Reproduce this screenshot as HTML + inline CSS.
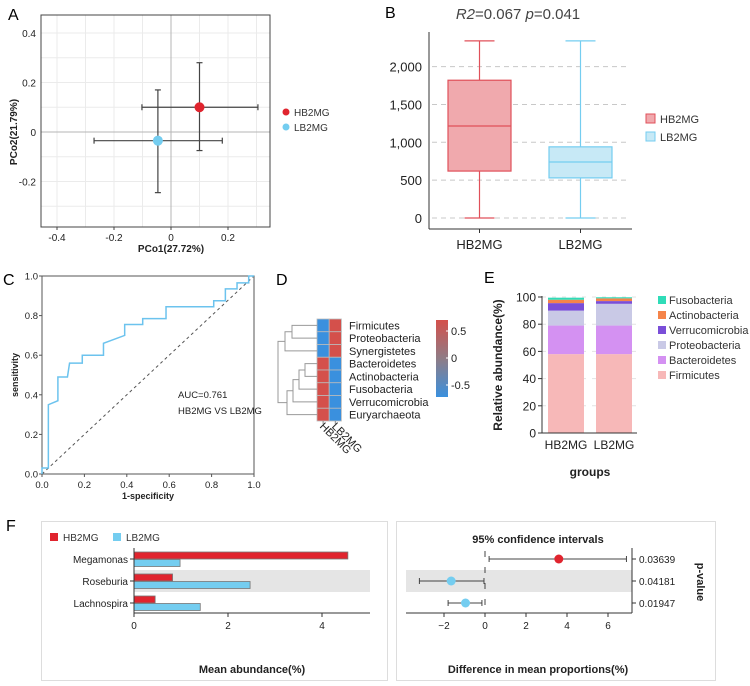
<!DOCTYPE html>
<html><head><meta charset="utf-8">
<style>
html,body{margin:0;padding:0;background:#fff;}
svg{display:block;font-family:"Liberation Sans",Arial,sans-serif;}
</style></head>
<body>
<svg id="fig" width="750" height="686" viewBox="0 0 750 686" xmlns="http://www.w3.org/2000/svg"></svg>
<script>
// ---- Panel A data ----
const pcoaGroups = ["HB2MG", "LB2MG"];
const pcoaX = [0.10, -0.046];
const pcoaY = [0.10, -0.035];
const pcoaXLo = [-0.102, -0.27];
const pcoaXHi = [0.305, 0.18];
const pcoaYLo = [-0.075, -0.245];
const pcoaYHi = [0.28, 0.17];
const pcoaXTicks = [-0.4, -0.2, 0, 0.2];
const pcoaYTicks = [0.4, 0.2, 0, -0.2];
// ---- Panel B data ----
const boxGroups = ["HB2MG", "LB2MG"];
const boxMin = [0, 0];
const boxQ1 = [620, 530];
const boxMed = [1215, 740];
const boxQ3 = [1820, 940];
const boxMax = [2340, 2340];
const boxTicks = [0, 500, 1000, 1500, 2000];
const boxTickLabels = ["0", "500", "1,000", "1,500", "2,000"];
// ---- Panel C data ----
const rocFpr = [0,0,0.03,0.03,0.075,0.075,0.12,0.13,0.19,0.19,0.29,0.29,0.39,0.39,0.475,0.475,0.585,0.585,0.81,0.81,0.865,0.865,0.92,0.92,0.975,0.975,1];
const rocTpr = [0,0.03,0.03,0.35,0.37,0.49,0.49,0.56,0.56,0.6,0.6,0.66,0.7,0.755,0.755,0.785,0.785,0.845,0.845,0.875,0.875,0.935,0.935,0.965,0.965,1,1];
const rocTicks = [0, 0.2, 0.4, 0.6, 0.8, 1.0];
// ---- Panel D data ----
const heatRows = ["Firmicutes","Proteobacteria","Synergistetes","Bacteroidetes","Actinobacteria","Fusobacteria","Verrucomicrobia","Euryarchaeota"];
const heatCols = ["HB2MG","LB2MG"];
const heatHB = [-0.7,-0.7,-0.7,0.7,0.7,0.7,0.7,0.7];
const heatLB = [0.7,0.7,0.7,-0.7,-0.7,-0.7,-0.7,-0.7];
// ---- Panel E data ----
const phyla = ["Firmicutes","Bacteroidetes","Proteobacteria","Verrucomicrobia","Actinobacteria","Fusobacteria"];
const stackGroups = ["HB2MG","LB2MG"];
const stackHB = [58, 21, 11, 5.5, 2.5, 1.5];
const stackLB = [58, 21, 16, 2, 2, 0.8];
const stackTicks = [0, 20, 40, 60, 80, 100];
// ---- Panel F data ----
const genera = ["Megamonas","Roseburia","Lachnospira"];
const meanHB = [4.55, 0.82, 0.45];
const meanLB = [0.98, 2.47, 1.41];
const diffEst = [3.6, -1.65, -0.95];
const diffLo = [0.2, -3.2, -1.8];
const diffHi = [6.9, -0.05, -0.15];
const pValues = ["0.03639","0.04181","0.01947"];
const meanTicks = [0, 2, 4];
const diffTicks = [-2, 0, 2, 4, 6];

const NS = "http://www.w3.org/2000/svg";
const svg = document.getElementById("fig");
function mk(tag, attrs, parent, text) {
  const e = document.createElementNS(NS, tag);
  for (const k in attrs) e.setAttribute(k, attrs[k]);
  if (text !== undefined) e.textContent = text;
  (parent || svg).appendChild(e);
  return e;
}
function grp(name) {
  const g = mk("g", {});
  
  
  return g;
}
const RED = "#e0242e", BLUE = "#74cdf0";

// ===================== Panel A =====================
(function(){
  const g = grp("pcoa-panel");
  const x0 = 41, x1 = 270, y0 = 15, y1 = 227;
  const sx = v => 171 + v * 285;
  const sy = v => 132 - v * 247.5;
  const lab = mk("text", {x: 8, y: 20, "font-size": 16}, g, "A");
  
  
  for (let v = -0.5; v <= 0.45; v += 0.1) {
    const X = sx(v);
    if (X > x0 && X < x1) mk("line", {x1: X, x2: X, y1: y0, y2: y1, stroke: "#ebebeb", "stroke-width": 1}, g);
    const Y = sy(v);
    if (Y > y0 && Y < y1) mk("line", {x1: x0, x2: x1, y1: Y, y2: Y, stroke: "#ebebeb", "stroke-width": 1}, g);
  }
  mk("line", {x1: sx(0), x2: sx(0), y1: y0, y2: y1, stroke: "#b5b5b5", "stroke-width": 1}, g);
  mk("line", {x1: x0, x2: x1, y1: sy(0), y2: sy(0), stroke: "#b5b5b5", "stroke-width": 1}, g);
  const fr = mk("rect", {x: x0, y: y0, width: x1 - x0, height: y1 - y0, fill: "none", stroke: "#444", "stroke-width": 1}, g);
  
  
  pcoaXTicks.forEach(t => {
    mk("line", {x1: sx(t), x2: sx(t), y1: y1, y2: y1 + 3, stroke: "#444"}, g);
    const tx = mk("text", {x: sx(t), y: y1 + 14, "font-size": 10, "text-anchor": "middle", fill: "#222"}, g, t === 0 ? "0" : t.toFixed(1));
    
    
  });
  pcoaYTicks.forEach(t => {
    const ty = mk("text", {x: 36, y: sy(t) + 4, "font-size": 10, "text-anchor": "end", fill: "#222"}, g, t === 0 ? "0" : t.toFixed(1));
    
    
  });
  const xt = mk("text", {x: 171, y: 252, "font-size": 10, "font-weight": "bold", "text-anchor": "middle", fill: "#222"}, g, "PCo1(27.72%)");
  
  
  const yt = mk("text", {x: 0, y: 0, "font-size": 10, "font-weight": "bold", "text-anchor": "middle", fill: "#222", transform: "translate(17,132) rotate(-90)"}, g, "PCo2(21.79%)");
  
  
  const cols = [RED, BLUE];
  pcoaGroups.forEach((name, i) => {
    const cx = sx(pcoaX[i]), cy = sy(pcoaY[i]);
    const eb = mk("g", {stroke: "#444", "stroke-width": 1.2}, g);
    
    
    mk("line", {x1: sx(pcoaXLo[i]), x2: sx(pcoaXHi[i]), y1: cy, y2: cy}, eb);
    mk("line", {x1: sx(pcoaXLo[i]), x2: sx(pcoaXLo[i]), y1: cy - 3, y2: cy + 3}, eb);
    mk("line", {x1: sx(pcoaXHi[i]), x2: sx(pcoaXHi[i]), y1: cy - 3, y2: cy + 3}, eb);
    mk("line", {x1: cx, x2: cx, y1: sy(pcoaYLo[i]), y2: sy(pcoaYHi[i])}, eb);
    mk("line", {x1: cx - 3, x2: cx + 3, y1: sy(pcoaYLo[i]), y2: sy(pcoaYLo[i])}, eb);
    mk("line", {x1: cx - 3, x2: cx + 3, y1: sy(pcoaYHi[i]), y2: sy(pcoaYHi[i])}, eb);
    const pt = mk("circle", {cx: cx, cy: cy, r: 5, fill: cols[i]}, g);
    
    
    const lg = mk("g", {}, g);
    
    
    mk("circle", {cx: 286, cy: 112 + i * 15, r: 3.5, fill: cols[i]}, lg);
    mk("text", {x: 294, y: 116 + i * 15, "font-size": 10, fill: "#333"}, lg, name);
  });
})();

// ===================== Panel B =====================
(function(){
  const g = grp("boxplot-panel");
  const sy = v => 218 - v * 0.0757;
  const lab = mk("text", {x: 385, y: 18, "font-size": 16}, g, "B");
  
  
  const ttl = mk("text", {x: 518, y: 19, "font-size": 15, "text-anchor": "middle", fill: "#444"}, g);
  
  
  mk("tspan", {"font-style": "italic"}, ttl, "R2");
  mk("tspan", {}, ttl, "=0.067  ");
  mk("tspan", {"font-style": "italic"}, ttl, "p");
  mk("tspan", {}, ttl, "=0.041");
  boxTicks.forEach((t, i) => {
    const gl = mk("line", {x1: 432, x2: 628, y1: sy(t), y2: sy(t), stroke: "#c8c8c8", "stroke-dasharray": "5,4"}, g);
    
    
    const tl = mk("text", {x: 422, y: sy(t) + 5, "font-size": 13, "text-anchor": "end", fill: "#222"}, g, boxTickLabels[i]);
    
    
  });
  mk("line", {x1: 429, x2: 429, y1: 32, y2: 229, stroke: "#333"}, g);
  mk("line", {x1: 429, x2: 632, y1: 229, y2: 229, stroke: "#333"}, g);
  const centers = [479.5, 580.5];
  const stroke = ["#e0505a", "#74cdf0"], fill = ["#f0a9ad", "#c7e9f6"];
  boxGroups.forEach((name, i) => {
    const c = centers[i], w = 31.5;
    const bg = mk("g", {stroke: stroke[i], "stroke-width": 1.2}, g);
    
    
    mk("line", {x1: c, x2: c, y1: sy(boxMax[i]), y2: sy(boxQ3[i])}, bg);
    mk("line", {x1: c, x2: c, y1: sy(boxQ1[i]), y2: sy(boxMin[i])}, bg);
    mk("line", {x1: c - 15, x2: c + 15, y1: sy(boxMax[i]), y2: sy(boxMax[i])}, bg);
    mk("line", {x1: c - 15, x2: c + 15, y1: sy(boxMin[i]), y2: sy(boxMin[i])}, bg);
    mk("rect", {x: c - w, y: sy(boxQ3[i]), width: 2 * w, height: sy(boxQ1[i]) - sy(boxQ3[i]), fill: fill[i]}, bg);
    mk("line", {x1: c - w, x2: c + w, y1: sy(boxMed[i]), y2: sy(boxMed[i])}, bg);
    mk("line", {x1: c, x2: c, y1: 229, y2: 233, stroke: "#333"}, g);
    const xl = mk("text", {x: c, y: 249, "font-size": 13, "text-anchor": "middle", fill: "#222"}, g, name);
    
    
    const lg = mk("g", {}, g);
    
    
    mk("rect", {x: 646, y: 114 + i * 18, width: 9, height: 9, fill: fill[i], stroke: stroke[i]}, lg);
    mk("text", {x: 660, y: 123 + i * 18, "font-size": 11, fill: "#333"}, lg, name);
  });
})();

// ===================== Panel C =====================
(function(){
  const g = grp("roc-panel");
  const x0 = 42, x1 = 254, y0 = 276, y1 = 474;
  const sx = v => x0 + v * (x1 - x0);
  const sy = v => y1 - v * (y1 - y0);
  const lab = mk("text", {x: 3, y: 285, "font-size": 16}, g, "C");
  
  
  mk("rect", {x: x0, y: y0, width: x1 - x0, height: y1 - y0, fill: "none", stroke: "#555"}, g);
  rocTicks.forEach(t => {
    mk("line", {x1: sx(t), x2: sx(t), y1: y1, y2: y1 + 3, stroke: "#555"}, g);
    mk("line", {x1: x0 - 3, x2: x0, y1: sy(t), y2: sy(t), stroke: "#555"}, g);
    const tx = mk("text", {x: sx(t), y: y1 + 14, "font-size": 9.5, "text-anchor": "middle", fill: "#222"}, g, t.toFixed(1));
    
    
    const ty = mk("text", {x: x0 - 4, y: sy(t) + 3.5, "font-size": 9.5, "text-anchor": "end", fill: "#222"}, g, t.toFixed(1));
    
    
  });
  const diag = mk("line", {x1: sx(0), y1: sy(0), x2: sx(1), y2: sy(1), stroke: "#555", "stroke-dasharray": "3,3"}, g);
  
  
  const pts = rocFpr.map((f, i) => sx(f) + "," + sy(rocTpr[i])).join(" ");
  const roc = mk("polyline", {points: pts, fill: "none", stroke: "#6cc3ee", "stroke-width": 1.5}, g);
  
  
  const a1 = mk("text", {x: 178, y: 398, "font-size": 9.5, fill: "#222"}, g, "AUC=0.761");
  
  
  const a2 = mk("text", {x: 178, y: 400 + 14, "font-size": 9.5, fill: "#222"}, g, "HB2MG VS LB2MG");
  
  
  const xt = mk("text", {x: 148, y: 499, "font-size": 9, "font-weight": "bold", "text-anchor": "middle", fill: "#222"}, g, "1-specificity");
  
  
  const yt = mk("text", {x: 0, y: 0, "font-size": 9, "font-weight": "bold", "text-anchor": "middle", fill: "#222", transform: "translate(18,375) rotate(-90)"}, g, "sensitivity");
  
  
})();

// ===================== Panel D =====================
(function(){
  const g = grp("heatmap-panel");
  const cx0 = 317, cw = 12.2, ry0 = 319, rh = 12.75;
  const lab = mk("text", {x: 276, y: 285, "font-size": 16}, g, "D");
  
  
  const col = v => v > 0 ? "#d4504b" : "#3a90de";
  const rowY = i => ry0 + rh * (i + 0.5);
  heatRows.forEach((r, i) => {
    [heatHB, heatLB].forEach((arr, j) => {
      const c = mk("rect", {x: cx0 + j * cw, y: ry0 + i * rh, width: cw, height: rh, fill: col(arr[i]), stroke: "#bbb", "stroke-width": 0.8}, g);
      
      
    });
    const t = mk("text", {x: 349, y: rowY(i) + 4, "font-size": 11, fill: "#222"}, g, r);
    
    
  });
  heatCols.forEach((c, j) => {
    const x = cx0 + cw * (j + 0.5);
    mk("line", {x1: x, x2: x, y1: ry0 + 8 * rh, y2: ry0 + 8 * rh + 3, stroke: "#888"}, g);
    const t = mk("text", {x: 0, y: 0, "font-size": 11, fill: "#222", transform: "translate(" + (x - 4) + "," + (ry0 + 8 * rh + 6) + ") rotate(45)"}, g, c);
    
    
  });
  // dendrogram
  const dg = mk("g", {stroke: "#999", fill: "none", "stroke-width": 1}, g);
  
  
  function br(ya, xa, yb, xb, xj) {
    mk("path", {d: "M" + xa + "," + ya + "H" + xj + "V" + yb + "H" + xb}, dg);
    return (ya + yb) / 2;
  }
  const m01 = br(rowY(0), cx0, rowY(1), cx0, 292);
  const mTop = br(m01, 292, rowY(2), cx0, 285);
  const m34 = br(rowY(3), cx0, rowY(4), cx0, 305);
  const m345 = br(m34, 305, rowY(5), cx0, 299);
  const m3456 = br(m345, 299, rowY(6), cx0, 293);
  const mBot = br(m3456, 293, rowY(7), cx0, 287);
  br(mTop, 285, mBot, 287, 278);
  // colorbar
  const defs = mk("defs", {}, g);
  const lgd = mk("linearGradient", {id: "cbar", x1: 0, y1: 0, x2: 0, y2: 1}, defs);
  mk("stop", {offset: "0", "stop-color": "#d4504b"}, lgd);
  mk("stop", {offset: "0.5", "stop-color": "#8f7c86"}, lgd);
  mk("stop", {offset: "1", "stop-color": "#3a90de"}, lgd);
  const cb = mk("rect", {x: 436, y: 320, width: 12, height: 77, fill: "url(#cbar)"}, g);
  
  
  [["0.5", 331], ["0", 358], ["-0.5", 385]].forEach(p => {
    mk("line", {x1: 446, x2: 449, y1: p[1], y2: p[1], stroke: "#fff"}, g);
    const t = mk("text", {x: 451, y: p[1] + 4, "font-size": 11, fill: "#222"}, g, p[0]);
    
    
  });
})();

// ===================== Panel E =====================
(function(){
  const g = grp("stacked-bar-panel");
  const sy = v => 433 - v * 1.36;
  const lab = mk("text", {x: 484, y: 283, "font-size": 16}, g, "E");
  
  
  const colors = ["#f7b8b8", "#d491f2", "#c9c9e6", "#7a4ed8", "#f5844a", "#2fdcb8"];
  stackTicks.forEach(t => {
    mk("line", {x1: 542, x2: 637, y1: sy(t), y2: sy(t), stroke: "#e2e2e2", "stroke-dasharray": "4,6"}, g);
    mk("line", {x1: 538, x2: 542, y1: sy(t), y2: sy(t), stroke: "#333"}, g);
    const tl = mk("text", {x: 536, y: sy(t) + 4.5, "font-size": 12, "text-anchor": "end", fill: "#222"}, g, String(t));
    
    
  });
  const xs = [548, 596];
  [stackHB, stackLB].forEach((arr, gi) => {
    let cum = 0;
    arr.forEach((v, k) => {
      const r = mk("rect", {x: xs[gi], y: sy(cum + v), width: 36, height: sy(cum) - sy(cum + v), fill: colors[k]}, g);
      
      
      cum += v;
    });
    const xl = mk("text", {x: xs[gi] + 18, y: 449, "font-size": 12, "text-anchor": "middle", fill: "#222"}, g, stackGroups[gi]);
    
    
  });
  mk("line", {x1: 542, x2: 542, y1: 296, y2: 433, stroke: "#333"}, g);
  mk("line", {x1: 542, x2: 637, y1: 433, y2: 433, stroke: "#333"}, g);
  const xt = mk("text", {x: 590, y: 476, "font-size": 12, "font-weight": "bold", "text-anchor": "middle", fill: "#222"}, g, "groups");
  
  
  const yt = mk("text", {x: 0, y: 0, "font-size": 12, "font-weight": "bold", "text-anchor": "middle", fill: "#222", transform: "translate(502,365) rotate(-90)"}, g, "Relative abundance(%)");
  
  
  for (let k = phyla.length - 1, row = 0; k >= 0; k--, row++) {
    const lg = mk("g", {}, g);
    
    
    mk("rect", {x: 658, y: 296 + row * 15, width: 8, height: 8, fill: colors[k]}, lg);
    mk("text", {x: 669, y: 304 + row * 15, "font-size": 11, fill: "#333"}, lg, phyla[k]);
  }
})();

// ===================== Panel F =====================
(function(){
  const g = grp("extended-error-bar-panel");
  const lab = mk("text", {x: 6, y: 531, "font-size": 16}, g, "F");
  
  
  const bl = mk("rect", {x: 41.5, y: 521.5, width: 346, height: 159, fill: "none", stroke: "#ddd"}, g);
  
  
  const brr = mk("rect", {x: 396.5, y: 521.5, width: 319, height: 159, fill: "none", stroke: "#ddd"}, g);
  
  
  const rowY = i => 559 + i * 22;
  // left chart
  const sx = v => 134 + v * 47;
  mk("rect", {x: 134, y: 570, width: 236, height: 22, fill: "#e5e5e5"}, g);
  genera.forEach((name, i) => {
    const y = rowY(i);
    const rb = mk("rect", {x: sx(0), y: y - 7, width: sx(meanHB[i]) - sx(0), height: 7, fill: "#e0242e", stroke: "#777", "stroke-width": 0.8}, g);
    
    
    const bb = mk("rect", {x: sx(0), y: y + 0.5, width: sx(meanLB[i]) - sx(0), height: 7, fill: "#74cdf0", stroke: "#777", "stroke-width": 0.8}, g);
    
    
    mk("line", {x1: 130, x2: 134, y1: y, y2: y, stroke: "#333"}, g);
    const t = mk("text", {x: 128, y: y + 4, "font-size": 10, "text-anchor": "end", fill: "#222"}, g, name);
    
    
  });
  mk("line", {x1: 134, x2: 134, y1: 548, y2: 613, stroke: "#333"}, g);
  mk("line", {x1: 134, x2: 370, y1: 613, y2: 613, stroke: "#333"}, g);
  meanTicks.forEach(t => {
    mk("line", {x1: sx(t), x2: sx(t), y1: 613, y2: 617, stroke: "#333"}, g);
    const tl = mk("text", {x: sx(t), y: 629, "font-size": 10, "text-anchor": "middle", fill: "#222"}, g, String(t));
    
    
  });
  const mt = mk("text", {x: 252, y: 673, "font-size": 11, "font-weight": "bold", "text-anchor": "middle", fill: "#222"}, g, "Mean abundance(%)");
  
  
  const lgs = [["HB2MG", "#e0242e", 50], ["LB2MG", "#74cdf0", 113]];
  lgs.forEach(l => {
    const lg = mk("g", {}, g);
    
    
    mk("rect", {x: l[2], y: 533, width: 8, height: 8, fill: l[1]}, lg);
    mk("text", {x: l[2] + 13, y: 541, "font-size": 10, fill: "#333"}, lg, l[0]);
  });
  // right chart
  const dx = v => 485 + v * 20.5;
  mk("rect", {x: 406, y: 570, width: 226, height: 22, fill: "#e5e5e5"}, g);
  const zl = mk("line", {x1: dx(0), x2: dx(0), y1: 551, y2: 613, stroke: "#444", "stroke-dasharray": "6,10"}, g);
  
  
  genera.forEach((name, i) => {
    const y = rowY(i);
    const c = diffEst[i] > 0 ? "#e0242e" : "#74cdf0";
    const eg = mk("g", {stroke: "#444", "stroke-width": 1}, g);
    
    
    mk("line", {x1: dx(diffLo[i]), x2: dx(diffHi[i]), y1: y, y2: y}, eg);
    mk("line", {x1: dx(diffLo[i]), x2: dx(diffLo[i]), y1: y - 3, y2: y + 3}, eg);
    mk("line", {x1: dx(diffHi[i]), x2: dx(diffHi[i]), y1: y - 3, y2: y + 3}, eg);
    const p = mk("circle", {cx: dx(diffEst[i]), cy: y, r: 4.5, fill: c}, g);
    
    
    mk("line", {x1: 632, x2: 636, y1: y, y2: y, stroke: "#333"}, g);
    const pv = mk("text", {x: 639, y: y + 4, "font-size": 10, fill: "#222"}, g, pValues[i]);
    
    
  });
  mk("line", {x1: 632, x2: 632, y1: 548, y2: 613, stroke: "#333"}, g);
  mk("line", {x1: 406, x2: 632, y1: 613, y2: 613, stroke: "#333"}, g);
  diffTicks.forEach(t => {
    mk("line", {x1: dx(t), x2: dx(t), y1: 613, y2: 617, stroke: "#333"}, g);
    const tl = mk("text", {x: dx(t), y: 629, "font-size": 10, "text-anchor": "middle", fill: "#222"}, g, t < 0 ? "\u2212" + Math.abs(t) : String(t));
    
    
  });
  const ct = mk("text", {x: 538, y: 543, "font-size": 11, "font-weight": "bold", "text-anchor": "middle", fill: "#222"}, g, "95% confidence intervals");
  
  
  const dt = mk("text", {x: 538, y: 673, "font-size": 11, "font-weight": "bold", "text-anchor": "middle", fill: "#222"}, g, "Difference in mean proportions(%)");
  
  
  const pt = mk("text", {x: 0, y: 0, "font-size": 11, "font-weight": "bold", "text-anchor": "middle", fill: "#222", transform: "translate(697,582) rotate(90)"}, g, "p-value");
  
  
})();
</script>
</body></html>
